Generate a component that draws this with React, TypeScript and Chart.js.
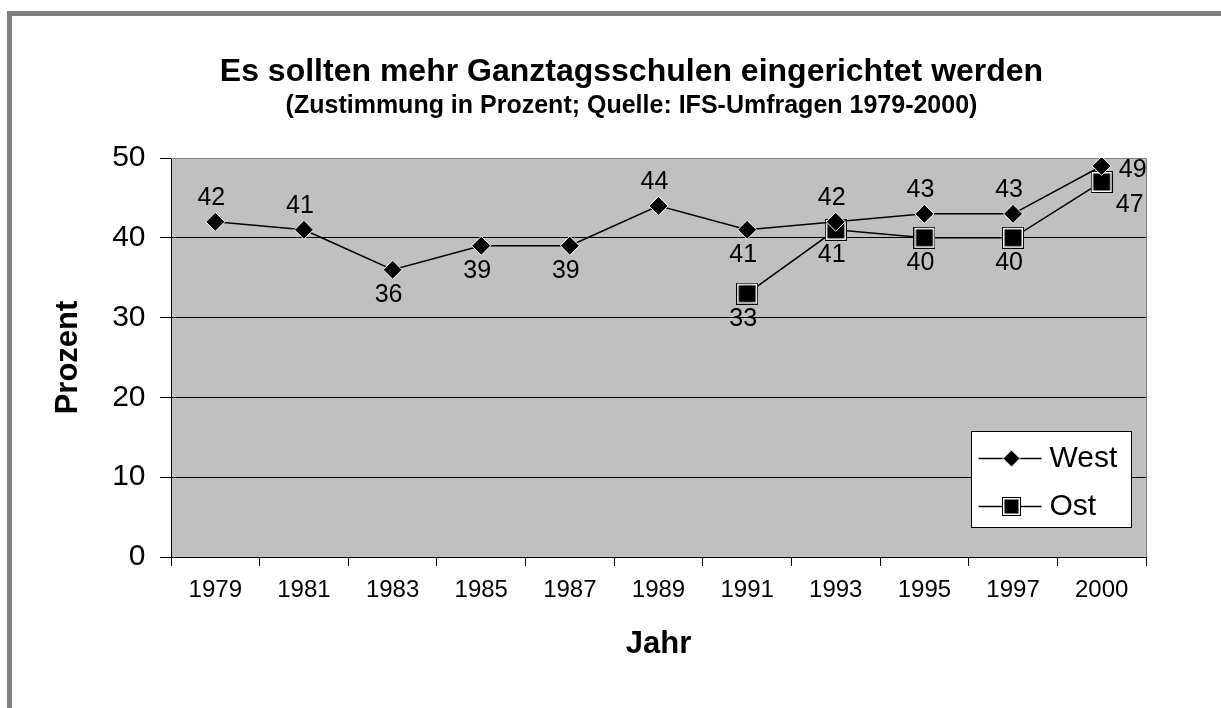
import React, { useEffect, useRef } from "react";
import { Chart, registerables } from "chart.js";

Chart.register(...registerables);

// ---- data ----
const YEARS = ["1979", "1981", "1983", "1985", "1987", "1989", "1991", "1993", "1995", "1997", "2000"];
const WEST = [42, 41, 36, 39, 39, 44, 41, 42, 43, 43, 49];
const OST: (number | null)[] = [null, null, null, null, null, null, 33, 41, 40, 40, 47];
const WEST_LABEL_POS = ["above", "above", "below", "below", "below", "above", "below", "above", "above", "above", "right"];
const OST_LABEL_POS = ["", "", "", "", "", "", "below", "below", "below", "below", "belowRight"];
const Y_MIN = 0;
const Y_MAX = 50;
const Y_STEP = 10;
const SERIES_NAMES = ["West", "Ost"];
const TITLE = "Es sollten mehr Ganztagsschulen eingerichtet werden";
const SUBTITLE = "(Zustimmung in Prozent; Quelle: IFS-Umfragen 1979-2000)";
const X_TITLE = "Jahr";
const Y_TITLE = "Prozent";

const FONT = '"Liberation Sans", Arial, Helvetica, sans-serif';

function makeSquare(size: number): HTMLCanvasElement {
  const c = document.createElement("canvas");
  c.width = size;
  c.height = size;
  const g = c.getContext("2d")!;
  g.fillStyle = "#000";
  g.fillRect(0, 0, size, size);
  g.fillStyle = "#fff";
  g.fillRect(1, 1, size - 2, size - 2);
  g.fillStyle = "#000";
  g.fillRect(2.5, 2.5, size - 5, size - 5);
  return c;
}

export default function App() {
  const ref = useRef<HTMLCanvasElement | null>(null);

  useEffect(() => {
    document.body.style.margin = "0";
    const canvas = ref.current!;
    const square = makeSquare(22);
    const legendSquare = makeSquare(19);

    const framePlugin = {
      id: "frame",
      afterLayout(chart: any) {
        // let the y tick labels extend left of the (narrow) scale box
        const y = chart.scales.y;
        if (y) y._computeLabelArea = () => undefined;
      },
      beforeDraw(chart: any) {
        const { ctx, chartArea: ca, width, height } = chart;
        ctx.save();
        ctx.fillStyle = "#fff";
        ctx.fillRect(0, 0, width, height);
        ctx.fillStyle = "#808080";
        ctx.fillRect(7, 11, width - 7, 5);
        ctx.fillRect(7, 11, 5, height - 11);
        ctx.fillStyle = "#C0C0C0";
        ctx.fillRect(ca.left, ca.top, ca.right - ca.left, ca.bottom - ca.top);
        ctx.restore();
      },
      beforeDatasetsDraw(chart: any) {
        const { ctx, chartArea: ca } = chart;
        ctx.save();
        ctx.strokeStyle = "#808080";
        ctx.lineWidth = 1;
        ctx.beginPath();
        ctx.moveTo(ca.left, Math.round(ca.top) + 0.5);
        ctx.lineTo(Math.round(ca.right) + 0.5, Math.round(ca.top) + 0.5);
        ctx.lineTo(Math.round(ca.right) + 0.5, ca.bottom);
        ctx.stroke();
        ctx.restore();
      },
    };

    const labelPlugin = {
      id: "pointLabels",
      afterDatasetsDraw(chart: any) {
        const { ctx } = chart;
        ctx.save();
        ctx.font = `25px ${FONT}`;
        ctx.fillStyle = "#000";
        ctx.textAlign = "center";
        ctx.textBaseline = "middle";
        const sets: [number, (number | null)[], string[]][] = [
          [0, WEST, WEST_LABEL_POS],
          [1, OST, OST_LABEL_POS],
        ];
        for (const [di, values, pos] of sets) {
          const meta = chart.getDatasetMeta(di);
          meta.data.forEach((pt: any, i: number) => {
            const v = values[i];
            if (v === null || v === undefined) return;
            let dx = -4;
            let dy = 0;
            const p = pos[i];
            if (p === "above") dy = -24;
            else if (p === "below") dy = 25;
            else if (p === "right") {
              dx = 31;
              dy = 4;
            } else if (p === "belowRight") {
              dx = 28;
              dy = 23;
            }
            ctx.fillText(String(v), pt.x + dx, pt.y + dy);
          });
        }
        ctx.restore();
      },
    };

    const legendPlugin = {
      id: "customLegend",
      afterDraw(chart: any) {
        const { ctx, chartArea: ca } = chart;
        const left = Math.round(ca.right) - 175 + 0.5;
        const top = Math.round(ca.top) + 273 + 0.5;
        const w = 160;
        const h = 96;
        ctx.save();
        ctx.fillStyle = "#fff";
        ctx.fillRect(left, top, w, h);
        ctx.strokeStyle = "#000";
        ctx.lineWidth = 1;
        ctx.strokeRect(left, top, w, h);
        const rows = [top + 27, top + 75];
        const lx1 = left + 7;
        const lx2 = left + 70;
        const mx = left + 40;
        rows.forEach((y, i) => {
          ctx.strokeStyle = "#000";
          ctx.lineWidth = 1.5;
          ctx.beginPath();
          ctx.moveTo(lx1, y);
          ctx.lineTo(lx2, y);
          ctx.stroke();
          if (i === 0) {
            const r = 8.5;
            ctx.beginPath();
            ctx.moveTo(mx, y - r);
            ctx.lineTo(mx + r, y);
            ctx.lineTo(mx, y + r);
            ctx.lineTo(mx - r, y);
            ctx.closePath();
            ctx.fillStyle = "#000";
            ctx.fill();
            ctx.strokeStyle = "#fff";
            ctx.lineWidth = 1;
            ctx.stroke();
          } else {
            ctx.drawImage(legendSquare, Math.round(mx - 9.5), Math.round(y - 9.5));
          }
          ctx.fillStyle = "#000";
          ctx.font = `30px ${FONT}`;
          ctx.textAlign = "left";
          ctx.textBaseline = "middle";
          ctx.fillText(SERIES_NAMES[i], left + 78, y);
        });
        ctx.restore();
      },
    };

    const chart = new Chart(canvas, {
      type: "line",
      data: {
        labels: YEARS,
        datasets: [
          {
            label: SERIES_NAMES[0],
            data: WEST,
            borderColor: "#000",
            borderWidth: 1.5,
            backgroundColor: "#000",
            pointStyle: "rectRot",
            pointRadius: 9.5,
            pointBackgroundColor: "#000",
            pointBorderColor: "#fff",
            pointBorderWidth: 1,
            tension: 0,
          },
          {
            label: SERIES_NAMES[1],
            data: OST,
            borderColor: "#000",
            borderWidth: 1.5,
            backgroundColor: "#000",
            pointStyle: square as any,
            pointRadius: 11,
            tension: 0,
          },
        ],
      },
      options: {
        responsive: false,
        animation: false,
        devicePixelRatio: 1,
        events: [],
        layout: { padding: { left: 117, right: 75, top: 0, bottom: 45.4 } },
        plugins: {
          legend: { display: false },
          tooltip: { enabled: false },
          title: {
            display: true,
            text: TITLE,
            color: "#000",
            font: { family: FONT, size: 32, weight: "bold" },
            padding: { top: 52.8, bottom: 0 },
          },
          subtitle: {
            display: true,
            text: SUBTITLE,
            color: "#000",
            font: { family: FONT, size: 25, weight: "bold" },
            padding: { top: -0.2, bottom: 37 },
          },
        },
        scales: {
          x: {
            type: "category",
            offset: true,
            grid: {
              display: true,
              drawOnChartArea: false,
              drawTicks: true,
              tickLength: 9,
              offset: true,
              color: "#000",
              lineWidth: 1,
            },
            border: { display: true, color: "#000", width: 1 },
            ticks: {
              color: "#000",
              font: { family: FONT, size: 24 },
              padding: 10,
              maxRotation: 0,
              autoSkip: false,
            },
            title: {
              display: true,
              text: X_TITLE,
              color: "#000",
              font: { family: FONT, size: 31, weight: "bold" },
              padding: { top: 0, bottom: 0 },
            },
            afterFit: (s: any) => {
              s.height = 105.6;
            },
          },
          y: {
            type: "linear",
            min: Y_MIN,
            max: Y_MAX,
            grid: {
              display: true,
              drawOnChartArea: true,
              drawTicks: true,
              tickLength: 11,
              color: "#000",
              lineWidth: 1,
            },
            border: { display: true, color: "#000", width: 1 },
            ticks: {
              stepSize: Y_STEP,
              color: "#000",
              font: { family: FONT, size: 30 },
              padding: 14.5,
            },
            title: {
              display: true,
              text: Y_TITLE,
              color: "#000",
              font: { family: FONT, size: 31, weight: "bold" },
              padding: { top: -67.6, bottom: 0 },
            },
            afterFit: (s: any) => {
              s.width = 54;
            },
          },
        },
      },
      plugins: [framePlugin, labelPlugin, legendPlugin],
    } as any);

    return () => chart.destroy();
  }, []);

  return (
    <div style={{ position: "absolute", left: 0, top: 0, width: 1221, height: 708 }}>
      <canvas ref={ref} width={1221} height={708} style={{ width: 1221, height: 708, display: "block" }} />
    </div>
  );
}
